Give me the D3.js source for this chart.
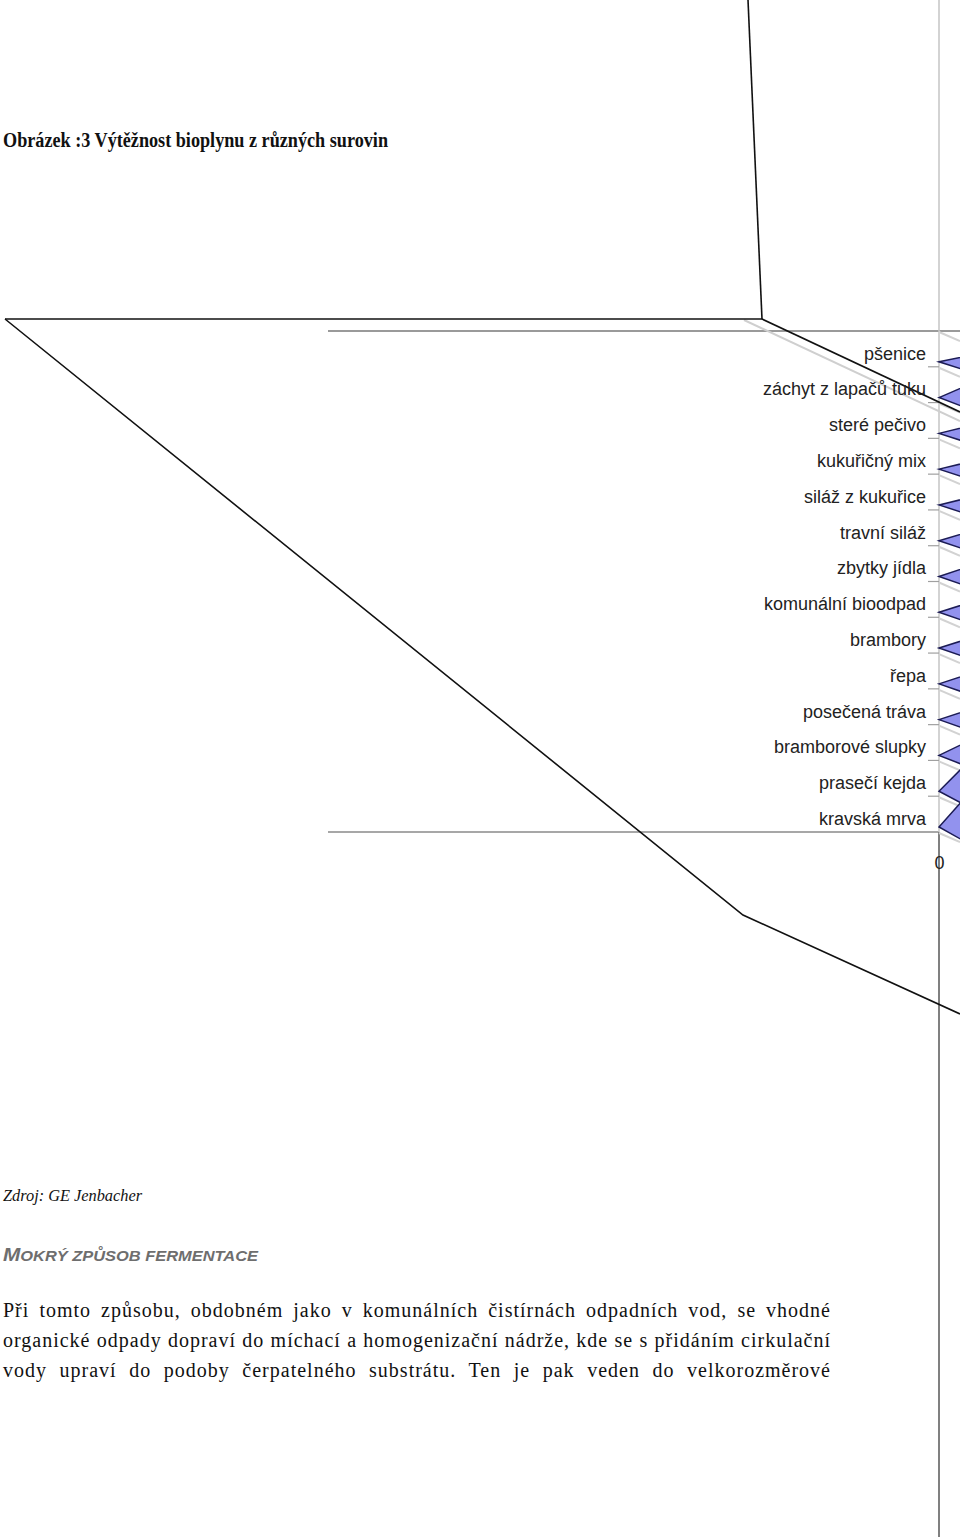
<!DOCTYPE html>
<html>
<head>
<meta charset="utf-8">
<script src="https://cdn.jsdelivr.net/npm/d3@7"></script>
<style>
  body { margin: 0; background: #fff; }
  svg { display: block; }
</style>
</head>
<body>
<div id="chart"></div>
<script>
// kategorie odshora dolu
var categories = ['pšenice', 'záchyt z lapačů tuku', 'steré pečivo', 'kukuřičný mix',
  'siláž z kukuřice', 'travní siláž', 'zbytky jídla', 'komunální bioodpad', 'brambory',
  'řepa', 'posečená tráva', 'bramborové slupky', 'prasečí kejda', 'kravská mrva'];

// vytěžnost (odhad z viditelné části sloupců)
var yields = [134, 65, 117, 117, 117, 96, 85, 88, 88, 85, 85, 58, 28, 25];

var xTicks = [0];

var bodyLines = [
  'Při tomto způsobu, obdobném jako v komunálních čistírnách odpadních vod, se vhodné',
  'organické odpady dopraví do míchací a homogenizační nádrže, kde se s přidáním cirkulační',
  'vody upraví do podoby čerpatelného substrátu. Ten je pak veden do velkorozměrové'
];

var W = 960, H = 1537;

var svg = d3.select('#chart')
            .append('svg')
            .attr('width', W)
            .attr('height', H)
            .style('background-color', 'white');

var data = categories.map(function(c, i){ return {cat: c, v: yields[i]}; });

var y = d3.scaleBand().domain(categories).range([331, 832]).padding(0);
var x = d3.scaleLinear().domain([0, 100]).range([939, 1046]);

var bounds = d3.range(categories.length + 1).map(function(i){ return 331 + i * y.step(); });

// horizontalni sede cary (zadni stena)
svg.append('line')
   .attr('x1', 328).attr('x2', 960).attr('y1', 331).attr('y2', 331)
   .style('stroke', '#9a9a9a').style('stroke-width', 1.8);
svg.append('line')
   .attr('x1', 328).attr('x2', 939).attr('y1', 832).attr('y2', 832)
   .style('stroke', '#8a8a8a').style('stroke-width', 1.5);

// svisla osa
svg.append('line')
   .attr('x1', 939).attr('x2', 939).attr('y1', 0).attr('y2', 832)
   .style('stroke', '#c4c4c4').style('stroke-width', 1.5);
svg.append('line')
   .attr('x1', 939).attr('x2', 939).attr('y1', 832).attr('y2', H)
   .style('stroke', '#808080').style('stroke-width', 2);

// hloubkove cary z hranic kategorii
svg.selectAll('.depth')
   .data(bounds)
   .enter().append('line')
   .attr('class', 'depth')
   .attr('x1', 939).attr('y1', function(d){ return d + 1; })
   .attr('x2', 960).attr('y2', function(d){ return d + 10; })
   .style('stroke', '#d2d2d2').style('stroke-width', 2);

// kratke znacky vlevo od osy
svg.selectAll('.tick-m')
   .data(bounds.slice(1, -1))
   .enter().append('line')
   .attr('class', 'tick-m')
   .attr('x1', 928).attr('x2', 939)
   .attr('y1', function(d){ return d; }).attr('y2', function(d){ return d; })
   .style('stroke', '#a0a0a0').style('stroke-width', 1.2);

// sede cary podel cerne diagonaly
svg.append('line')
   .attr('x1', 744).attr('y1', 320).attr('x2', 960).attr('y2', 421)
   .style('stroke', '#cfcfcf').style('stroke-width', 2);

// sloupce
svg.selectAll('.bar')
   .data(data)
   .enter().append('polygon')
   .attr('class', 'bar')
   .attr('points', function(d){
     var y0 = y(d.cat) + y.bandwidth() - 5;
     var x0 = x(0), x1 = x(d.v);
     var L = x1 - x0;
     return [[x0, y0], [x1, y0 - 30], [x1, y0 + 8 + 0.26 * L]].join(' ');
   })
   .style('fill', '#9292ee')
   .style('stroke', '#1c1c55')
   .style('stroke-width', 1.5)
   .style('stroke-linejoin', 'miter');

// cerny ramecek (perspektiva)
var frame = [
  [[748, 0], [762, 319]],
  [[5, 319], [762, 319]],
  [[5, 319], [743, 915], [960, 1014]],
  [[762, 319], [960, 412]]
];
svg.selectAll('.frame')
   .data(frame)
   .enter().append('path')
   .attr('class', 'frame')
   .attr('d', d3.line())
   .style('fill', 'none')
   .style('stroke', '#111')
   .style('stroke-width', 1.6);

// popisky kategorii
var yAxis = svg.append('g')
   .attr('transform', 'translate(939, 5)')
   .call(d3.axisLeft(y).tickSize(0).tickPadding(13));
yAxis.select('.domain').remove();
yAxis.selectAll('text')
   .style('font-family', '"Liberation Sans", Arial, sans-serif')
   .style('font-size', '18px')
   .style('fill', '#222');

var xAxis = svg.append('g')
   .attr('transform', 'translate(0, 853)')
   .call(d3.axisBottom(x).tickValues(xTicks).tickSize(0).tickPadding(3));
xAxis.select('.domain').remove();
xAxis.selectAll('text')
   .style('font-family', '"Liberation Sans", Arial, sans-serif')
   .style('font-size', '18px')
   .style('fill', '#222');

// texty stranky
svg.append('text')
   .attr('x', 3).attr('y', 146.5)
   .attr('textLength', 385).attr('lengthAdjust', 'spacingAndGlyphs')
   .style('font-family', '"Liberation Serif", "Times New Roman", serif')
   .style('font-weight', 'bold')
   .style('font-size', '20px')
   .style('fill', '#111')
   .text('Obrázek :3 Výtěžnost bioplynu z různých surovin');

svg.append('text')
   .attr('x', 3).attr('y', 1200.5)
   .attr('textLength', 139).attr('lengthAdjust', 'spacingAndGlyphs')
   .style('font-family', '"Liberation Serif", "Times New Roman", serif')
   .style('font-style', 'italic')
   .style('font-size', '16px')
   .style('fill', '#111')
   .text('Zdroj: GE Jenbacher');

var head = svg.append('text')
   .attr('x', 3).attr('y', 1260.5)
   .attr('textLength', 255).attr('lengthAdjust', 'spacingAndGlyphs')
   .style('font-family', '"Liberation Sans", Arial, sans-serif')
   .style('font-style', 'italic')
   .style('font-weight', 'bold')
   .style('fill', '#6e6e6e');
head.append('tspan').style('font-size', '19px').text('M');
head.append('tspan').style('font-size', '15px').text('OKRÝ ZPŮSOB FERMENTACE');

// odstavec zarovnany do bloku pres mezery mezi slovy
svg.selectAll('.body')
   .data(bodyLines)
   .enter().append('text')
   .attr('class', 'body')
   .attr('x', 3)
   .attr('y', function(d, i){ return 1317 + i * 30; })
   .style('font-family', '"Liberation Serif", "Times New Roman", serif')
   .style('font-size', '20px')
   .style('letter-spacing', '1px')
   .style('fill', '#111')
   .text(function(d){ return d; })
   .each(function(d){
     var natural = this.getComputedTextLength();
     var gaps = d.split(' ').length - 1;
     var extra = (828 - natural) / gaps;
     d3.select(this).style('word-spacing', extra + 'px');
   });
</script>
</body>
</html>
